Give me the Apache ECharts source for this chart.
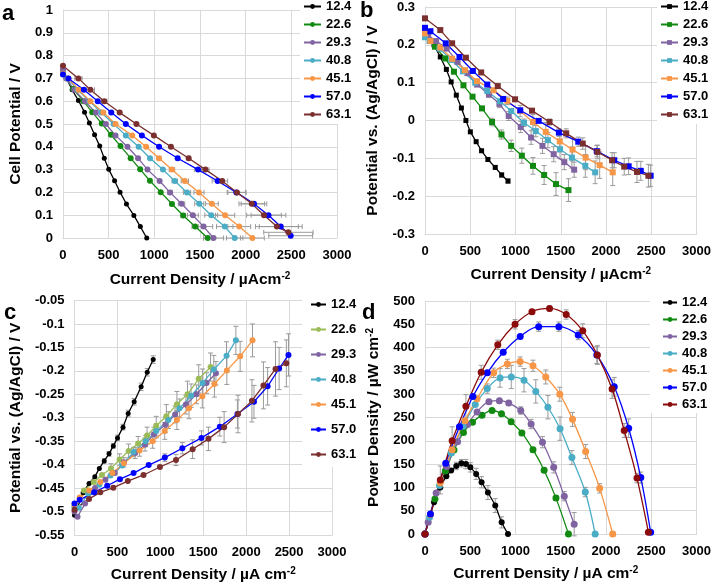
<!DOCTYPE html>
<html>
<head>
<meta charset="utf-8">
<script src="https://cdn.jsdelivr.net/npm/echarts@6/dist/echarts.min.js"></script>
<style>
  body { margin: 0; background: #fff; }
  .panel { position: absolute; width: 357px; height: 294px; }
</style>
</head>
<body>
<div id="pa" class="panel" style="left:0;top:0"></div>
<div id="pb" class="panel" style="left:357px;top:0"></div>
<div id="pc" class="panel" style="left:0;top:294px"></div>
<div id="pd" class="panel" style="left:357px;top:294px"></div>
<script>
// series labels (legend)
const seriesNames = ["12.4", "22.6", "29.3", "40.8", "45.1", "57.0", "63.1"];

// current density of each point, µA cm-2 (shared by all four panels)
const currentDensity = [
  [0, 100, 169, 236, 289, 346, 402, 452, 501, 565, 625, 695, 776, 847, 917],
  [0, 110, 224, 320, 425, 525, 630, 741, 845, 952, 1070, 1193, 1316, 1447, 1585],
  [0, 35, 123, 240, 360, 469, 575, 706, 822, 925, 1058, 1172, 1298, 1422, 1539, 1648],
  [0, 50, 160, 290, 420, 555, 688, 829, 953, 1094, 1224, 1358, 1492, 1623, 1771, 1880],
  [0, 60, 169, 300, 441, 575, 758, 910, 1051, 1193, 1334, 1489, 1630, 1775, 1930, 2074],
  [0, 60, 229, 381, 529, 688, 864, 1052, 1256, 1479, 1693, 1898, 2091, 2250, 2384, 2493],
  [0, 169, 300, 452, 621, 804, 995, 1182, 1376, 1560, 1743, 1905, 2067, 2201, 2342, 2468]
];

// a: cell potential / V
const cellPotential = [
  [0.73, 0.65, 0.603, 0.552, 0.504, 0.453, 0.403, 0.35, 0.301, 0.251, 0.201, 0.149, 0.099, 0.05, 0],
  [0.72, 0.654, 0.6, 0.552, 0.502, 0.453, 0.403, 0.35, 0.301, 0.251, 0.201, 0.149, 0.099, 0.05, 0],
  [0.74, 0.7, 0.65, 0.6, 0.55, 0.5, 0.45, 0.4, 0.35, 0.3, 0.25, 0.2, 0.15, 0.1, 0.05, 0],
  [0.72, 0.7, 0.65, 0.6, 0.55, 0.5, 0.45, 0.4, 0.35, 0.3, 0.25, 0.2, 0.15, 0.1, 0.05, 0],
  [0.72, 0.7, 0.65, 0.6, 0.55, 0.5, 0.45, 0.4, 0.35, 0.3, 0.25, 0.2, 0.15, 0.1, 0.05, 0],
  [0.717, 0.7, 0.65, 0.6, 0.55, 0.5, 0.45, 0.4, 0.35, 0.3, 0.25, 0.2, 0.15, 0.1, 0.05, 0.01],
  [0.756, 0.7, 0.65, 0.6, 0.55, 0.5, 0.45, 0.4, 0.35, 0.3, 0.25, 0.2, 0.15, 0.1, 0.05, 0.025]
];
// a: horizontal error (µA cm-2)
const cellErr = [
  [0, 0, 0, 0, 0, 0, 0, 0, 0, 0, 0, 0, 0, 0, 0],
  [0, 0, 0, 0, 0, 0, 0, 0, 0, 0, 0, 20, 25, 35, 45],
  [0, 0, 0, 0, 0, 0, 0, 0, 0, 0, 0, 25, 35, 60, 100, 110],
  [0, 0, 0, 0, 0, 0, 0, 0, 0, 0, 30, 40, 50, 70, 90, 90],
  [0, 0, 0, 0, 0, 0, 0, 0, 20, 30, 40, 55, 70, 105, 125, 130],
  [0, 0, 0, 0, 0, 0, 0, 0, 20, 40, 60, 100, 140, 190, 235, 240],
  [0, 40, 45, 30, 0, 0, 0, 0, 20, 40, 60, 100, 140, 190, 235, 270]
];

// b: cathode potential vs Ag/AgCl / V
const cathodePotential = [
  [0.22, 0.2, 0.168, 0.135, 0.102, 0.067, 0.033, 0.0, -0.03, -0.056, -0.08, -0.103, -0.124, -0.144, -0.16],
  [0.225, 0.195, 0.164, 0.129, 0.093, 0.063, 0.032, -0.004, -0.037, -0.067, -0.093, -0.12, -0.144, -0.168, -0.184],
  [0.235, 0.225, 0.21, 0.19, 0.155, 0.125, 0.095, 0.069, 0.044, 0.012, -0.017, -0.045, -0.067, -0.089, -0.11, -0.13],
  [0.22, 0.21, 0.19, 0.16, 0.13, 0.1, 0.078, 0.051, 0.025, -0.006, -0.028, -0.052, -0.076, -0.098, -0.12, -0.137],
  [0.23, 0.21, 0.193, 0.163, 0.133, 0.104, 0.08, 0.052, 0.025, -0.004, -0.03, -0.055, -0.077, -0.098, -0.118, -0.137],
  [0.245, 0.236, 0.204, 0.168, 0.131, 0.095, 0.057, 0.027, -0.001, -0.032, -0.056, -0.081, -0.105, -0.121, -0.133, -0.146],
  [0.27, 0.239, 0.204, 0.166, 0.127, 0.091, 0.056, 0.026, -0.004, -0.034, -0.061, -0.083, -0.105, -0.122, -0.136, -0.146]
];
const cathodeErr = [
  [0, 0, 0, 0, 0, 0, 0, 0, 0, 0, 0.004, 0.005, 0.005, 0.006, 0.006],
  [0, 0, 0, 0, 0, 0, 0.005, 0.01, 0.012, 0.015, 0.02, 0.022, 0.025, 0.03, 0.03],
  [0, 0, 0, 0, 0, 0, 0, 0.008, 0.01, 0.012, 0.015, 0.018, 0.02, 0.02, 0.02, 0.02],
  [0, 0, 0, 0, 0, 0, 0, 0, 0.005, 0.01, 0.015, 0.02, 0.025, 0.028, 0.03, 0.03],
  [0, 0, 0, 0, 0, 0, 0, 0.01, 0.015, 0.02, 0.025, 0.028, 0.03, 0.032, 0.035, 0.035],
  [0, 0, 0, 0, 0, 0, 0, 0, 0.005, 0.01, 0.012, 0.015, 0.02, 0.022, 0.025, 0.028],
  [0, 0, 0, 0, 0, 0, 0, 0, 0.008, 0.012, 0.015, 0.018, 0.02, 0.022, 0.028, 0.03]
];

// c: anode potential vs Ag/AgCl / V
const anodePotential = [
  [-0.508, -0.46, -0.44, -0.426, -0.408, -0.392, -0.377, -0.36, -0.343, -0.32, -0.291, -0.266, -0.234, -0.203, -0.176],
  [-0.49, -0.455, -0.437, -0.422, -0.408, -0.389, -0.371, -0.355, -0.338, -0.317, -0.297, -0.271, -0.25, -0.217, -0.192],
  [-0.5, -0.511, -0.483, -0.45, -0.432, -0.418, -0.395, -0.375, -0.357, -0.335, -0.315, -0.293, -0.272, -0.25, -0.226, -0.205],
  [-0.49, -0.492, -0.462, -0.443, -0.423, -0.402, -0.373, -0.35, -0.328, -0.305, -0.28, -0.253, -0.226, -0.197, -0.168, -0.135],
  [-0.485, -0.47, -0.455, -0.437, -0.418, -0.397, -0.37, -0.35, -0.328, -0.305, -0.28, -0.254, -0.228, -0.199, -0.169, -0.135],
  [-0.483, -0.475, -0.459, -0.445, -0.431, -0.418, -0.401, -0.385, -0.365, -0.343, -0.319, -0.292, -0.266, -0.233, -0.195, -0.166],
  [-0.496, -0.473, -0.459, -0.449, -0.435, -0.422, -0.405, -0.39, -0.367, -0.345, -0.32, -0.292, -0.264, -0.231, -0.196, -0.184]
];
const anodeErr = [
  [0, 0, 0, 0, 0, 0.005, 0.005, 0.005, 0.006, 0.006, 0.007, 0.007, 0.008, 0.008, 0.008],
  [0, 0, 0, 0, 0.01, 0.012, 0.015, 0.015, 0.018, 0.02, 0.025, 0.027, 0.028, 0.03, 0.03],
  [0, 0, 0, 0, 0, 0, 0.01, 0.012, 0.014, 0.015, 0.017, 0.018, 0.02, 0.02, 0.022, 0.025],
  [0, 0, 0, 0, 0, 0, 0.01, 0.012, 0.015, 0.018, 0.02, 0.025, 0.03, 0.03, 0.03, 0.03],
  [0, 0, 0, 0, 0, 0, 0.012, 0.015, 0.018, 0.02, 0.022, 0.025, 0.028, 0.03, 0.032, 0.035],
  [0, 0, 0, 0, 0, 0, 0, 0.008, 0.012, 0.015, 0.02, 0.03, 0.035, 0.04, 0.045, 0.045],
  [0, 0, 0, 0, 0, 0, 0, 0.012, 0.02, 0.025, 0.033, 0.04, 0.045, 0.05, 0.058, 0.05]
];

// d: power density / µW cm-2
const powerDensity = [
  [0, 68, 100, 124, 136, 146, 152, 150, 143, 129, 111, 89, 61, 25, 0],
  [0, 75, 135, 180, 218, 240, 255, 265, 258, 241, 217, 181, 137, 77, 0],
  [0, 25, 88, 145, 198, 235, 262, 284, 286, 281, 265, 236, 197, 143, 81, 21],
  [0, 36, 104, 174, 231, 278, 312, 335, 337, 330, 306, 272, 226, 164, 90, 0],
  [0, 42, 110, 181, 243, 290, 346, 365, 370, 361, 337, 300, 246, 177, 98, 0],
  [0, 43, 152, 230, 295, 346, 390, 424, 445, 445, 427, 384, 316, 227, 121, 4],
  [0, 116, 200, 274, 347, 406, 450, 477, 484, 471, 436, 384, 311, 222, 120, 4]
];
const powerErr = [
  [0, 0, 0, 0, 0, 8, 8, 10, 10, 12, 12, 15, 15, 12, 0],
  [0, 0, 0, 0, 0, 0, 0, 0, 0, 5, 5, 5, 5, 5, 0],
  [0, 0, 0, 0, 0, 0, 0, 5, 5, 5, 8, 10, 12, 12, 10, 25],
  [0, 0, 0, 0, 0, 0, 10, 20, 25, 25, 25, 25, 25, 15, 10, 0],
  [0, 0, 0, 0, 0, 0, 10, 10, 10, 12, 15, 15, 15, 15, 10, 5],
  [0, 0, 0, 0, 0, 0, 0, 0, 10, 10, 10, 18, 20, 20, 12, 0],
  [0, 30, 30, 25, 15, 10, 10, 5, 5, 10, 15, 20, 20, 15, 10, 0]
];

const FONT = '"Liberation Sans", Arial, sans-serif';
const GRID_COLOR = "#d9d9d9";

function errorBar(horizontal) {
  return function (params, api) {
    const x = api.value(0), y = api.value(1), e = api.value(2);
    if (!e) return null;
    const cap = 2.5;
    const st = { stroke: "#9a9a9a", lineWidth: 1 };
    if (horizontal) {
      const p1 = api.coord([x - e, y]), p2 = api.coord([x + e, y]);
      return {
        type: "group",
        children: [
          { type: "line", shape: { x1: p1[0], y1: p1[1], x2: p2[0], y2: p2[1] }, style: st },
          { type: "line", shape: { x1: p1[0], y1: p1[1] - cap, x2: p1[0], y2: p1[1] + cap }, style: st },
          { type: "line", shape: { x1: p2[0], y1: p2[1] - cap, x2: p2[0], y2: p2[1] + cap }, style: st }
        ]
      };
    }
    const p1 = api.coord([x, y - e]), p2 = api.coord([x, y + e]);
    return {
      type: "group",
      children: [
        { type: "line", shape: { x1: p1[0], y1: p1[1], x2: p2[0], y2: p2[1] }, style: st },
        { type: "line", shape: { x1: p1[0] - cap, y1: p1[1], x2: p1[0] + cap, y2: p1[1] }, style: st },
        { type: "line", shape: { x1: p2[0] - cap, y1: p2[1], x2: p2[0] + cap, y2: p2[1] }, style: st }
      ]
    };
  };
}

function axisName(text, sup) {
  return "{t|" + text + "}{s|" + sup + "}";
}
const nameRich = {
  t: { fontSize: 15.5, fontWeight: "bold", color: "#000", fontFamily: FONT, lineHeight: 18 },
  s: { fontSize: 10, fontWeight: "bold", color: "#000", fontFamily: FONT, verticalAlign: "top", lineHeight: 11 }
};

function drawPanel(id, p) {
  const chart = echarts.init(document.getElementById(id));
  const series = [];
  seriesNames.forEach((n, i) => {
    const col = p.colors[i];
    series.push({
      name: n,
      type: "line",
      data: currentDensity[i].map((x, j) => [x, p.values[i][j]]),
      symbol: p.symbol,
      symbolSize: i === 0 ? p.symbolSize - 1 : p.symbolSize,
      smooth: p.smooth,
      lineStyle: { width: 1.3, color: col },
      itemStyle: { color: col },
      z: 3
    });
    series.push({
      name: "err " + n,
      type: "custom",
      renderItem: errorBar(p.horizontal),
      data: currentDensity[i].map((x, j) => [x, p.values[i][j], p.errors[i][j]]),
      silent: true,
      z: 2
    });
  });

  chart.setOption({
    animation: false,
    textStyle: { fontFamily: FONT },
    grid: p.grid,
    graphic: [{
      type: "text", left: p.letter[0], top: p.letter[1],
      style: { text: p.letter[2], font: "bold 22px " + FONT, fill: "#000" }
    }],
    legend: {
      orient: "vertical",
      left: p.legend.left,
      top: p.legend.top,
      padding: p.legend.padding,
      itemGap: p.legend.gap,
      itemWidth: p.legend.width,
      itemHeight: 6,
      backgroundColor: "#fff",
      textStyle: { fontWeight: "bold", fontSize: 13, color: "#000", fontFamily: FONT, lineHeight: 13 },
      data: seriesNames
    },
    xAxis: {
      type: "value", min: 0, max: 3000, interval: 500,
      axisLine: { show: true, onZero: false, lineStyle: { color: GRID_COLOR } },
      axisTick: { show: false },
      splitLine: { lineStyle: { color: GRID_COLOR } },
      axisLabel: {
        color: "#000", fontWeight: "bold", fontSize: 13, margin: 11, fontFamily: FONT,
        formatter: v => String(v)
      },
      name: axisName(p.xName[0], p.xName[1]),
      nameLocation: "middle", nameGap: p.xGap,
      nameTextStyle: { rich: nameRich, padding: p.xNamePad || 0 }
    },
    yAxis: {
      type: "value", min: p.yMin, max: p.yMax, interval: p.yStep,
      axisLine: { show: true, onZero: false, lineStyle: { color: GRID_COLOR } },
      axisTick: { show: false },
      splitLine: { lineStyle: { color: GRID_COLOR } },
      axisLabel: {
        color: "#000", fontWeight: "bold", fontSize: 13, margin: 10, fontFamily: FONT,
        formatter: v => String(parseFloat(v.toFixed(2)))
      },
      name: p.yName[1] ? axisName(p.yName[0], p.yName[1]) : "{t|" + p.yName[0] + "}",
      nameLocation: "middle", nameGap: p.yGap,
      nameTextStyle: { rich: nameRich }
    },
    series: series
  });
}

const baseColors = ["#000000", "#128a12", "#8064a2", "#4bacc6", "#f79646", "#0000ff", "#7a2e2e"];

drawPanel("pa", {
  values: cellPotential, errors: cellErr, horizontal: true,
  colors: baseColors, symbol: "circle", symbolSize: 6, smooth: false,
  grid: { left: 53, top: 10, width: 284, height: 228 },
  yMin: 0, yMax: 1, yStep: 0.1,
  xName: ["Current Density / µAcm", "-2"], xGap: 33,
  yName: ["Cell Potential / V"], yGap: 35,
  letter: [2, 3, "a"],
  legend: { left: 300, top: 0, padding: [0, 12, 3, 3], gap: 5, width: 17 }
});

drawPanel("pb", {
  values: cathodePotential, errors: cathodeErr, horizontal: false,
  colors: baseColors, symbol: "rect", symbolSize: 6, smooth: false,
  grid: { left: 64, top: 7, width: 277, height: 227 },
  yMin: -0.3, yMax: 0.3, yStep: 0.1,
  xName: ["Current Density / µAcm", "-2"], xGap: 32,
  yName: ["Potential vs. (Ag/AgCl) / V"], yGap: 43,
  letter: [3, 0, "b"],
  legend: { left: 300, top: 0, padding: [0, 12, 3, 3], gap: 5, width: 17 }
});

const cColors = baseColors.slice();
cColors[1] = "#9bbb59";
drawPanel("pc", {
  values: anodePotential, errors: anodeErr, horizontal: false,
  colors: cColors, symbol: "circle", symbolSize: 6, smooth: false,
  grid: { left: 65, top: 4, width: 267, height: 238 },
  yMin: -0.55, yMax: -0.05, yStep: 0.05,
  xName: ["Current Density / µA cm", "-2"], xGap: 31,
  yName: ["Potential vs. (Ag/AgCl) / V"], yGap: 46,
  letter: [4, 8, "c"],
  legend: { left: 302, top: 0, padding: [4, 12, 6, 8], gap: 12, width: 15 }
});

const dColors = baseColors.slice();
dColors[6] = "#8b0a0a";
drawPanel("pd", {
  values: powerDensity, errors: powerErr, horizontal: false,
  colors: dColors, symbol: "circle", symbolSize: 7, smooth: 0.35,
  grid: { left: 64, top: 7, width: 277, height: 233 },
  yMin: 0, yMax: 500, yStep: 50,
  xName: ["Current Density / µA cm", "-2"], xGap: 31, xNamePad: [0, 30, 0, 0],
  yName: ["Power Density / µW cm", "-2"], yGap: 42,
  letter: [5, 8, "d"],
  legend: { left: 293, top: 0, padding: [2, 12, 2, 12], gap: 4, width: 14 }
});
</script>
</body>
</html>
